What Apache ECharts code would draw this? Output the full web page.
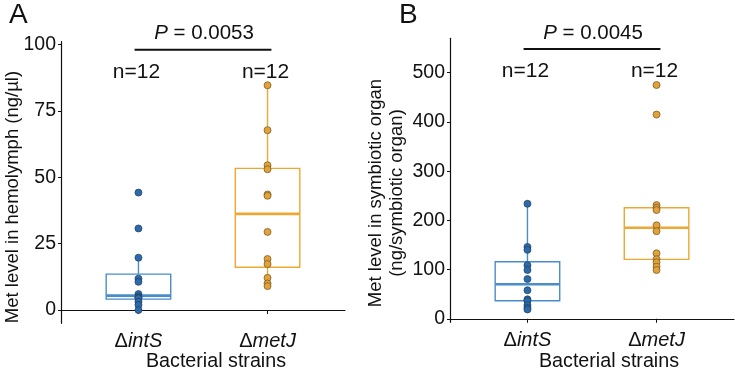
<!DOCTYPE html>
<html>
<head>
<meta charset="utf-8">
<script src="https://cdn.jsdelivr.net/npm/echarts@6/dist/echarts.min.js"></script>
<style>
  html, body { margin: 0; padding: 0; background: #fff; }
  #main { width: 735px; height: 371px; }
</style>
</head>
<body>
<div id="main"></div>
<script>
// data
var categories = ['ΔintS', 'ΔmetJ'];
var hemolymphIntS = [44.2, 30.7, 19.7, 11.8, 10.6, 6.0, 5.0, 4.6, 4.4, 3.1, 1.9, 0];
var hemolymphMetJ = [84.6, 67.7, 54.5, 53.0, 43.5, 43.0, 29.4, 19.2, 17.3, 12.1, 10.0, 9.0];
var organIntS = [233.7, 146, 140, 109, 99, 80.7, 58, 39.4, 36, 27.8, 22.4, 19];
var organMetJ = [475, 415, 231, 225.6, 221, 190, 178, 133, 121, 114.6, 105.7, 99];
// [low whisker, Q1, median, Q3, high whisker]
var hemolymphBox = [[0, 4.1, 5.4, 13.5, 19.7], [9.0, 16.1, 36.2, 53.3, 84.6]];
var organBox = [[19, 36.6, 70, 116, 233.7], [99, 120.7, 185, 225.6, 231]];
var hemolymphTicks = [0, 25, 50, 75, 100];
var organTicks = [0, 100, 200, 300, 400, 500];
var pValues = ['0.0053', '0.0045'];
var sampleSizes = [12, 12];

var FONT = 'Liberation Sans, Arial, sans-serif';
var lineColors = ['#4a8dcb', '#eda733'];
var pointColors = ['#2d6aa9', '#e3a238'];
var pointBorders = ['#1c3c60', '#6e5222'];

function xAxisFor(gridIndex) {
  return {
    type: 'value', gridIndex: gridIndex, min: 0.4, max: 2.6,
    splitLine: { show: false },
    axisLine: { lineStyle: { color: '#111', width: 1.2 } },
    axisTick: { customValues: [1, 2], length: 4, lineStyle: { color: '#111' } },
    axisLabel: {
      customValues: [1, 2], margin: 8, color: '#111', fontSize: 20, fontFamily: FONT,
      formatter: function (v) {
        var s = categories[Math.round(v) - 1];
        return '{d|' + s.charAt(0) + '}{i|' + s.slice(1) + '}';
      },
      rich: {
        d: { fontSize: 20, fontFamily: FONT, color: '#111' },
        i: { fontSize: 20, fontFamily: FONT, color: '#111', fontStyle: 'italic' }
      }
    }
  };
}

function yAxisFor(gridIndex, min, max, ticks) {
  return {
    type: 'value', gridIndex: gridIndex, min: min, max: max,
    splitLine: { show: false },
    axisLine: { show: true, lineStyle: { color: '#111', width: 1.2 } },
    axisTick: { show: true, customValues: ticks, length: 3, lineStyle: { color: '#111' } },
    axisLabel: { customValues: ticks, margin: 5, color: '#111', fontSize: 19.5, fontFamily: FONT }
  };
}

function boxSeries(idx, boxes) {
  return {
    type: 'custom', xAxisIndex: idx, yAxisIndex: idx, z: 2,
    data: boxes.map(function (b, i) { return [i + 1].concat(b); }),
    encode: { x: 0, y: [1, 2, 3, 4, 5] },
    renderItem: function (params, api) {
      var x = api.value(0);
      var c = lineColors[params.dataIndex];
      var halfW = api.size([0.5, 0])[0] / 2;
      var lo = api.coord([x, api.value(1)]);
      var q1 = api.coord([x, api.value(2)]);
      var md = api.coord([x, api.value(3)]);
      var q3 = api.coord([x, api.value(4)]);
      var hi = api.coord([x, api.value(5)]);
      var st = { stroke: c, lineWidth: 1.4, fill: null };
      return {
        type: 'group',
        children: [
          { type: 'line', shape: { x1: hi[0], y1: hi[1], x2: q3[0], y2: q3[1] }, style: st },
          { type: 'line', shape: { x1: q1[0], y1: q1[1], x2: lo[0], y2: lo[1] }, style: st },
          { type: 'rect', shape: { x: q3[0] - halfW, y: q3[1], width: halfW * 2, height: q1[1] - q3[1] },
            style: { stroke: c, lineWidth: 1.4, fill: '#fff' } },
          { type: 'line', shape: { x1: md[0] - halfW, y1: md[1], x2: md[0] + halfW, y2: md[1] },
            style: { stroke: c, lineWidth: 2.6 } }
        ]
      };
    }
  };
}

function pointSeries(idx, values, k) {
  return {
    type: 'scatter', xAxisIndex: idx, yAxisIndex: idx, z: 3,
    symbolSize: 7,
    itemStyle: { color: pointColors[k], borderColor: pointBorders[k], borderWidth: 0.7, opacity: 1 },
    data: values.map(function (v) { return [k + 1, v]; })
  };
}

var chart = echarts.init(document.getElementById('main'), null, { renderer: 'canvas' });

var option = {
  animation: false,
  backgroundColor: '#fff',
  grid: [
    { left: 61, top: 41.7, width: 284, height: 281.6 },
    { left: 450, top: 38.3, width: 284, height: 284 }
  ],
  xAxis: [xAxisFor(0), xAxisFor(1)],
  yAxis: [yAxisFor(0, -5, 101, hemolymphTicks), yAxisFor(1, -7.2, 570, organTicks)],
  series: [
    boxSeries(0, hemolymphBox),
    pointSeries(0, hemolymphIntS, 0),
    pointSeries(0, hemolymphMetJ, 1),
    boxSeries(1, organBox),
    pointSeries(1, organIntS, 0),
    pointSeries(1, organMetJ, 1)
  ]
};
chart.setOption(option);

// annotations: panel letters, axis titles, P bars, n labels
var g = [];
function txt(x, y, text, size, extra) {
  g.push({ type: 'text', x: x, y: y, style: Object.assign({ text: text, fontSize: size, fontFamily: FONT,
    fill: '#111', align: 'center', verticalAlign: 'middle' }, extra || {}) });
}
function vtxt(x, y, text) {
  g.push({ type: 'text', x: x, y: y, rotation: Math.PI / 2,
    style: { text: text, fontSize: 18.5, fontFamily: FONT, fill: '#111', align: 'center', verticalAlign: 'middle' } });
}
txt(9, 15, 'A', 28, { align: 'left' });
txt(399, 15, 'B', 28, { align: 'left' });
vtxt(13, 197, 'Met level in hemolymph (ng/µl)');
vtxt(376, 193, 'Met level in symbiotic organ');
vtxt(397, 193, '(ng/symbiotic organ)');
txt(216, 362, 'Bacterial strains', 19.7);
txt(609, 362, 'Bacterial strains', 19.7);

[0, 1].forEach(function (idx) {
  var yBar = idx === 0 ? 98 : 548;
  var yN = idx === 0 ? 90 : 506;
  var a = chart.convertToPixel({ gridIndex: idx }, [0.97, yBar]);
  var b = chart.convertToPixel({ gridIndex: idx }, [2.03, yBar]);
  g.push({ type: 'line', shape: { x1: a[0], y1: a[1], x2: b[0], y2: b[1] }, style: { stroke: '#111', lineWidth: 2 } });
  g.push({ type: 'text', x: (a[0] + b[0]) / 2 + 1, y: a[1] - 16,
    style: { text: '{p|P}{n| = ' + pValues[idx] + '}', align: 'center', verticalAlign: 'middle',
      rich: { p: { fontSize: 20.5, fontFamily: FONT, fill: '#111', fontStyle: 'italic' },
              n: { fontSize: 20.5, fontFamily: FONT, fill: '#111' } } } });
  [1, 2].forEach(function (k) {
    var p = chart.convertToPixel({ gridIndex: idx }, [k, yN]);
    txt(p[0] - 2, p[1] + 1, 'n=' + sampleSizes[k - 1], 21);
  });
});
chart.setOption({ graphic: g });
</script>
</body>
</html>
